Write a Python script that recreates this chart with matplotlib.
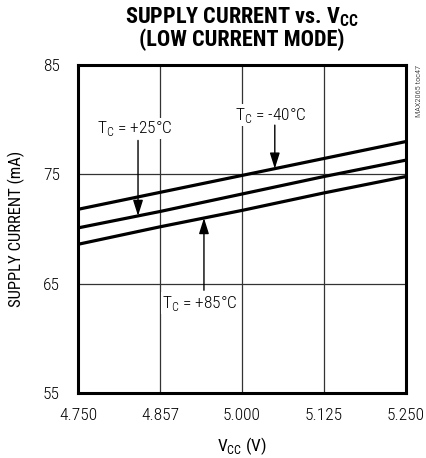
import numpy as np
import matplotlib
matplotlib.use("Agg")
import matplotlib.pyplot as plt

plt.rcParams['font.family'] = ['Roboto Condensed', 'DejaVu Sans']
plt.rcParams['font.weight'] = 'light'
plt.rcParams['mathtext.fontset'] = 'custom'
plt.rcParams['mathtext.rm'] = 'Roboto Condensed:light'
plt.rcParams['mathtext.bf'] = 'Roboto Condensed:bold'

# grid positions are evenly spaced, labels as printed on the datasheet
vcc = [4.750, 4.875, 5.000, 5.125, 5.250]
vcc_labels = ["4.750", "4.857", "5.000", "5.125", "5.250"]
yticks = [55, 65, 75, 85]

i_m40 = [71.8, 73.35, 74.9, 76.45, 78.0]
i_p25 = [70.1, 71.6, 73.2, 74.8, 76.3]
i_p85 = [68.6, 70.2, 71.7, 73.3, 74.8]

fig = plt.figure(figsize=(4.27, 4.58), dpi=100)
ax = fig.add_axes([78/427, 1-393/458, 328/427, 328/458])

for s in (i_m40, i_p25, i_p85):
    ax.plot(vcc, s, color="black", lw=2.3, solid_capstyle="butt", zorder=3)

ax.set_xlim(4.75, 5.25)
ax.set_ylim(55, 85)
ax.set_xticks(vcc)
ax.set_xticklabels(vcc_labels)
ax.set_yticks(yticks)
ax.tick_params(length=0, labelsize=12.5)
ax.tick_params(axis="x", pad=11)
ax.tick_params(axis="y", pad=13)
ax.grid(True, color="#333333", lw=0.9)
for sp in ax.spines.values():
    sp.set_linewidth(2.2)

ax.set_xlabel(r"V$_\mathregular{CC}$ (V)", fontsize=12.5, labelpad=9)
ax.set_ylabel("SUPPLY CURRENT (mA)", fontsize=12, labelpad=13)

fig.text(242/427, 1-17/458, r"SUPPLY CURRENT vs. V$_\mathbf{CC}$", ha="center", va="center",
         fontsize=16, fontweight="bold")
fig.text(242/427, 1-40/458, "(LOW CURRENT MODE)", ha="center", va="center",
         fontsize=16, fontweight="bold")
fig.text(419/427, 1-65/458, "MAX2065 toc47", rotation=90, ha="center", va="top", fontsize=6)

box = dict(facecolor="white", edgecolor="none", pad=1)
arrow = dict(arrowstyle="-|>,head_length=0.95,head_width=0.3", color="black", lw=1,
             shrinkA=0, shrinkB=0, mutation_scale=10)

labels = [(r"T$_\mathregular{C}$ = +25°C", 4.837, 79.2, 4.8415, 78.1, i_p25),
          (r"T$_\mathregular{C}$ = -40°C", 5.044, 80.4, 5.050, 79.5, i_m40),
          (r"T$_\mathregular{C}$ = +85°C", 4.936, 63.2, 4.942, 64.4, i_p85)]
for txt, tx, ty, ax_x, ay0, s in labels:
    ax.text(tx, ty, txt, ha="center", va="center", fontsize=12.5, bbox=box, zorder=4)
    ax.annotate("", xy=(ax_x, np.interp(ax_x, vcc, s)), xytext=(ax_x, ay0),
                arrowprops=arrow, zorder=4)

fig.savefig("out.png", dpi=100)
